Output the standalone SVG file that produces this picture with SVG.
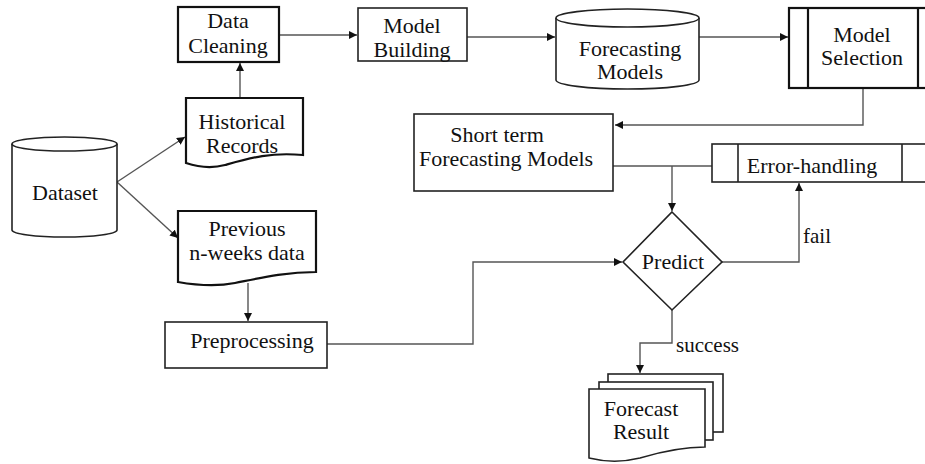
<svg xmlns="http://www.w3.org/2000/svg" width="925" height="464" viewBox="0 0 925 464">
<style>
.s{fill:#fff;stroke:#222;stroke-width:1.6}
.b{fill:#fff;stroke:#111;stroke-width:2.2}
.t{font-family:'Liberation Serif','Tinos','Times New Roman','Nimbus Roman','DejaVu Serif',serif;font-size:22px;fill:#111;text-anchor:middle}
.l{font-family:'Liberation Serif','Tinos','Times New Roman','Nimbus Roman','DejaVu Serif',serif;font-size:21px;fill:#111}
.c{fill:none;stroke:#555;stroke-width:1.4}
</style>
<defs>
<marker id="a" viewBox="0 0 10 10" refX="10" refY="5" markerWidth="8" markerHeight="8" orient="auto" markerUnits="userSpaceOnUse">
<path d="M0,0 L10,5 L0,10 z" fill="#111"/>
</marker>
</defs>
<rect width="925" height="464" fill="#fff"/>
<g id="connectors">
<line class="c" x1="279" y1="35" x2="357" y2="35" marker-end="url(#a)"/>
<line class="c" x1="467" y1="37" x2="555" y2="37" marker-end="url(#a)"/>
<line class="c" x1="699" y1="37" x2="788" y2="37" marker-end="url(#a)"/>
<line class="c" x1="240" y1="98" x2="240" y2="63" marker-end="url(#a)"/>
<line class="c" x1="117" y1="182" x2="185" y2="137" marker-end="url(#a)"/>
<line class="c" x1="117" y1="182" x2="178" y2="238" marker-end="url(#a)"/>
<polyline class="c" points="863,88 863,125 615,125" marker-end="url(#a)"/>
<line class="c" x1="613" y1="166" x2="712" y2="166"/>
<line class="c" x1="672" y1="166" x2="672" y2="211" marker-end="url(#a)"/>
<line class="c" x1="248" y1="283" x2="248" y2="321" marker-end="url(#a)"/>
<polyline class="c" points="327,344 473,344 473,262 622,262" marker-end="url(#a)"/>
<polyline class="c" points="722,262 799,262 799,183" marker-end="url(#a)"/>
<polyline class="c" points="672,310 672,343 640,343 640,373" marker-end="url(#a)"/>
<text class="l" x="803" y="243">fail</text>
<text class="l" x="676" y="352">success</text>
</g>
<g id="data-cleaning">
<rect class="b" x="178" y="7" width="101" height="55"/>
<text class="t" x="228" y="28">Data</text>
<text class="t" x="228" y="53">Cleaning</text>
</g>
<g id="model-building">
<rect class="s" x="358" y="8" width="109" height="53"/>
<text class="t" x="412" y="33">Model</text>
<text class="t" x="412" y="57">Building</text>
</g>
<g id="forecasting-models">
<path class="s" d="M556,18 L556,80 A71.5,9 0 0 0 699,80 L699,18"/>
<ellipse class="s" cx="627.5" cy="18" rx="71.5" ry="9"/>
<text class="t" x="630" y="56">Forecasting</text>
<text class="t" x="630" y="79">Models</text>
</g>
<g id="model-selection">
<rect class="b" x="789" y="8" width="145" height="80"/>
<line class="b" x1="808" y1="8" x2="808" y2="88"/>
<line class="b" x1="918" y1="8" x2="918" y2="88"/>
<text class="t" x="862" y="42">Model</text>
<text class="t" x="862" y="65">Selection</text>
</g>
<g id="historical-records">
<path class="b" d="M186,98 L303,98 L303,155 C270,152 250,158 225,165 C210,169 195,166 186,163 Z"/>
<text class="t" x="242" y="129">Historical</text>
<text class="t" x="242" y="153">Records</text>
</g>
<g id="dataset">
<path class="s" d="M12,144 L12,230 A52.5,7 0 0 0 117,230 L117,144"/>
<ellipse class="s" cx="64.5" cy="144" rx="52.5" ry="7"/>
<text class="t" x="65" y="200">Dataset</text>
</g>
<g id="short-term">
<rect class="s" x="414" y="114" width="199" height="77"/>
<text class="t" x="497" y="142">Short term</text>
<text class="t" x="506" y="166">Forecasting Models</text>
</g>
<g id="error-handling">
<rect class="s" x="712" y="144" width="222" height="38"/>
<line class="s" x1="738" y1="144" x2="738" y2="182"/>
<line class="s" x1="902" y1="144" x2="902" y2="182"/>
<text class="t" x="812" y="173">Error-handling</text>
</g>
<g id="previous">
<path class="b" d="M178,211 L316,211 L316,272 C285,272 260,278 235,283 C215,287 195,285 178,282 Z"/>
<text class="t" x="247" y="236">Previous</text>
<text class="t" x="247" y="260">n-weeks data</text>
</g>
<g id="preprocessing">
<rect class="s" x="165" y="322" width="162" height="46"/>
<text class="t" x="252" y="348">Preprocessing</text>
</g>
<g id="predict">
<polygon class="s" points="672,212 722,262 672,310 623,262"/>
<text class="t" x="673" y="269">Predict</text>
</g>
<g id="forecast-result">
<rect class="s" x="608" y="374" width="115" height="58"/>
<rect class="s" x="599" y="382" width="114" height="58"/>
<path class="s" d="M589,389 L705,389 L705,447 C680,447 660,452 640,458 C620,463 605,462 589,458 Z"/>
<text class="t" x="641" y="416">Forecast</text>
<text class="t" x="641" y="439">Result</text>
</g>
</svg>
